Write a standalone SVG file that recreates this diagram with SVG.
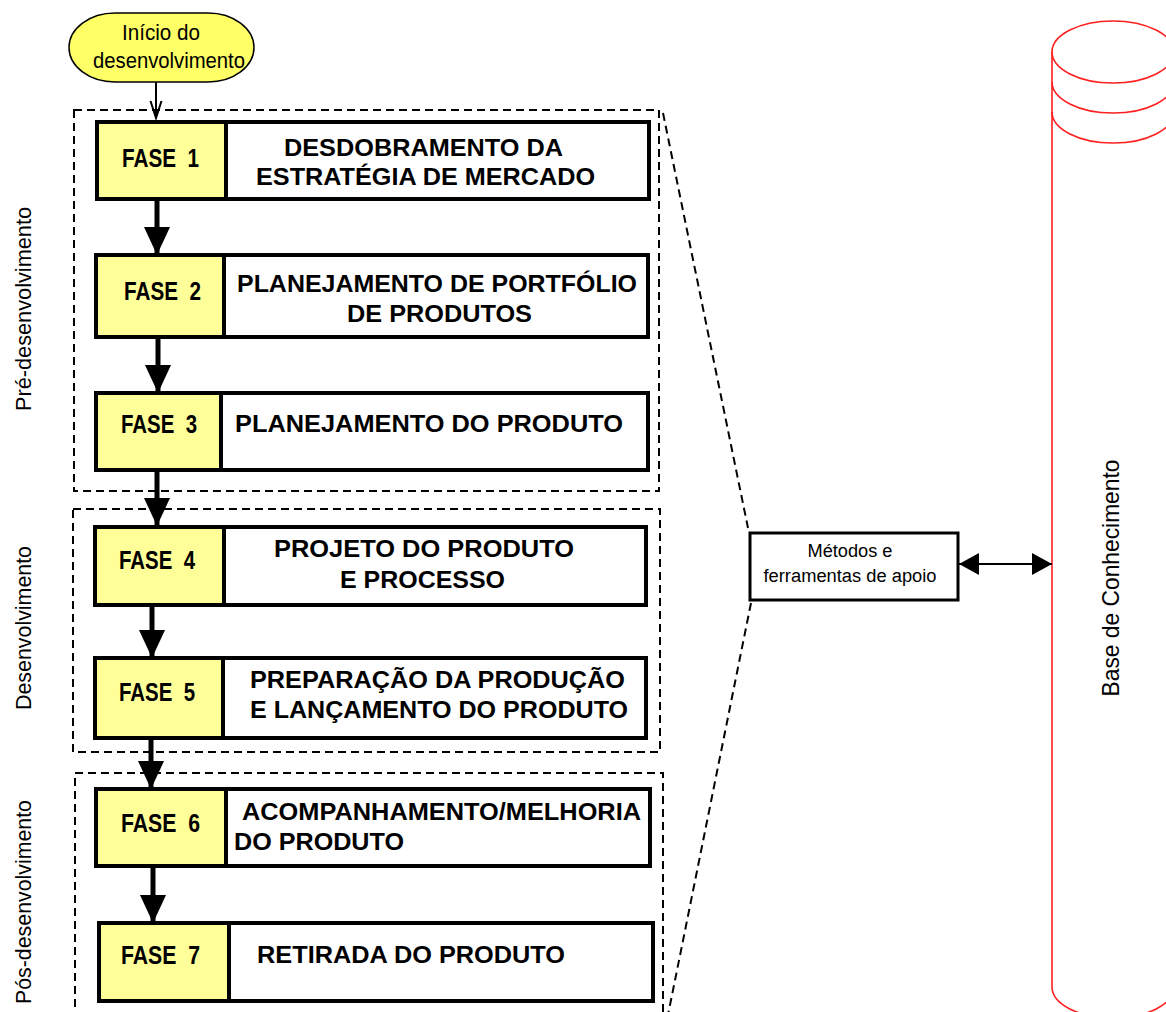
<svg xmlns="http://www.w3.org/2000/svg" width="1166" height="1012" viewBox="0 0 1166 1012">
<style>
.lab{fill:#ffff99;stroke:#000;stroke-width:4}
.desc{fill:#fff;stroke:#000;stroke-width:4}
.fase{font-family:"Liberation Sans Narrow","Liberation Sans",Arial,sans-serif;font-weight:bold;font-size:25px;fill:#000}
.txt{font-family:"Liberation Sans",Arial,sans-serif;font-weight:bold;font-size:24px;fill:#000}
.nar{font-family:"Liberation Sans Narrow","Liberation Sans",Arial,sans-serif;fill:#000}
.dash{fill:none;stroke:#000;stroke-width:2;stroke-dasharray:8,5}
.shaft{stroke:#000;stroke-width:5;fill:none}
.cyl{fill:none;stroke:#ff1f1f;stroke-width:1.6}
</style>
<defs>
<marker id="big" markerUnits="userSpaceOnUse" markerWidth="28" markerHeight="26" viewBox="0 0 28 26" refX="28" refY="13" orient="auto">
<path d="M0,0 L28,13 L0,26 z" fill="#000"/>
</marker>
<marker id="dbl" markerUnits="userSpaceOnUse" markerWidth="20" markerHeight="22" viewBox="0 0 20 22" refX="20" refY="11" orient="auto-start-reverse">
<path d="M0,0 L20,11 L0,22 z" fill="#000"/>
</marker>
</defs>

<g id="groups">
<rect class="dash" x="74" y="110" width="585" height="381"/>
<rect class="dash" x="73" y="509" width="587" height="243"/>
<path class="dash" d="M75,1020 L75,773 L663,773 L663,1020"/>
<line class="dash" x1="663" y1="113" x2="748" y2="528"/>
<line class="dash" x1="751" y1="603" x2="668" y2="1015"/>
</g>

<g id="start">
<rect x="69" y="13" width="185" height="69" rx="46" ry="34.5" fill="#ffff66" stroke="#000" stroke-width="1.5"/>
<text class="nar" x="161" y="40" font-size="22" text-anchor="middle" textLength="78" lengthAdjust="spacingAndGlyphs">Início do</text>
<text class="nar" x="169" y="68" font-size="22" text-anchor="middle" textLength="152" lengthAdjust="spacingAndGlyphs">desenvolvimento</text>
</g>

<g id="fase1">
<rect class="desc" x="226" y="122" width="423" height="77"/>
<rect class="lab" x="97" y="122" width="129" height="77"/>
<text class="fase" x="122" y="167" textLength="77" lengthAdjust="spacingAndGlyphs" xml:space="preserve">FASE  1</text>
<text class="txt" x="284" y="156" textLength="279" lengthAdjust="spacingAndGlyphs">DESDOBRAMENTO DA</text>
<text class="txt" x="256" y="185" textLength="339" lengthAdjust="spacingAndGlyphs">ESTRATÉGIA DE MERCADO</text>
</g>

<g id="fase2">
<rect class="desc" x="224" y="255" width="424" height="82"/>
<rect class="lab" x="96" y="255" width="128" height="82"/>
<text class="fase" x="124" y="300" textLength="77" lengthAdjust="spacingAndGlyphs" xml:space="preserve">FASE  2</text>
<text class="txt" x="237" y="292" textLength="400" lengthAdjust="spacingAndGlyphs">PLANEJAMENTO DE PORTFÓLIO</text>
<text class="txt" x="347" y="322" textLength="185" lengthAdjust="spacingAndGlyphs">DE PRODUTOS</text>
</g>

<g id="fase3">
<rect class="desc" x="221" y="393" width="427" height="77"/>
<rect class="lab" x="96" y="393" width="125" height="77"/>
<text class="fase" x="121" y="433" textLength="76" lengthAdjust="spacingAndGlyphs" xml:space="preserve">FASE  3</text>
<text class="txt" x="235" y="432" textLength="388" lengthAdjust="spacingAndGlyphs">PLANEJAMENTO DO PRODUTO</text>
</g>

<g id="fase4">
<rect class="desc" x="224" y="527" width="422" height="78"/>
<rect class="lab" x="95" y="527" width="129" height="78"/>
<text class="fase" x="119" y="569" textLength="76" lengthAdjust="spacingAndGlyphs" xml:space="preserve">FASE  4</text>
<text class="txt" x="274" y="557" textLength="300" lengthAdjust="spacingAndGlyphs">PROJETO DO PRODUTO</text>
<text class="txt" x="340" y="588" textLength="165" lengthAdjust="spacingAndGlyphs">E PROCESSO</text>
</g>

<g id="fase5">
<rect class="desc" x="223" y="658" width="423" height="80"/>
<rect class="lab" x="95" y="658" width="128" height="80"/>
<text class="fase" x="119" y="701" textLength="76" lengthAdjust="spacingAndGlyphs" xml:space="preserve">FASE  5</text>
<text class="txt" x="250" y="688" textLength="375" lengthAdjust="spacingAndGlyphs">PREPARAÇÃO DA PRODUÇÃO</text>
<text class="txt" x="250" y="718" textLength="378" lengthAdjust="spacingAndGlyphs">E LANÇAMENTO DO PRODUTO</text>
</g>

<g id="fase6">
<rect class="desc" x="226" y="789" width="424" height="77"/>
<rect class="lab" x="96" y="789" width="130" height="77"/>
<text class="fase" x="121" y="832" textLength="79" lengthAdjust="spacingAndGlyphs" xml:space="preserve">FASE  6</text>
<text class="txt" x="242" y="820" textLength="399" lengthAdjust="spacingAndGlyphs">ACOMPANHAMENTO/MELHORIA</text>
<text class="txt" x="234" y="850" textLength="170" lengthAdjust="spacingAndGlyphs">DO PRODUTO</text>
</g>

<g id="fase7">
<rect class="desc" x="229" y="923" width="424" height="78"/>
<rect class="lab" x="99" y="923" width="130" height="78"/>
<text class="fase" x="121" y="964" textLength="79" lengthAdjust="spacingAndGlyphs" xml:space="preserve">FASE  7</text>
<text class="txt" x="257" y="963" textLength="308" lengthAdjust="spacingAndGlyphs">RETIRADA DO PRODUTO</text>
</g>

<g id="metodos">
<rect x="750" y="533" width="208" height="67" fill="#fff" stroke="#000" stroke-width="3"/>
<text class="nar" x="850" y="557" font-size="18" text-anchor="middle" textLength="85" lengthAdjust="spacingAndGlyphs">Métodos e</text>
<text class="nar" x="850" y="582" font-size="18" text-anchor="middle" textLength="173" lengthAdjust="spacingAndGlyphs">ferramentas de apoio</text>
</g>

<g id="base">
<path class="cyl" d="M1052,52 A61,31 0 0 1 1174,52 A61,31 0 0 1 1052,52 Z"/>
<path class="cyl" d="M1052,82 A61,31 0 0 0 1174,82"/>
<path class="cyl" d="M1052,112 A61,31 0 0 0 1174,112"/>
<path class="cyl" d="M1052,52 L1052,987 A61,31 0 0 0 1174,987"/>
<text class="nar" transform="translate(1119,578) rotate(-90)" font-size="24" text-anchor="middle" textLength="237" lengthAdjust="spacingAndGlyphs">Base de Conhecimento</text>
</g>

<g id="stage-labels">
<text class="nar" transform="translate(31,309) rotate(-90)" font-size="22" text-anchor="middle" textLength="204" lengthAdjust="spacingAndGlyphs">Pré-desenvolvimento</text>
<text class="nar" transform="translate(31,628) rotate(-90)" font-size="22" text-anchor="middle" textLength="164" lengthAdjust="spacingAndGlyphs">Desenvolvimento</text>
<text class="nar" transform="translate(31,902) rotate(-90)" font-size="22" text-anchor="middle" textLength="204" lengthAdjust="spacingAndGlyphs">Pós-desenvolvimento</text>
</g>

<g id="connectors">
<line x1="156" y1="82" x2="156" y2="117" stroke="#000" stroke-width="2"/>
<polyline points="150.5,101 156,118 161.5,101" fill="none" stroke="#000" stroke-width="2"/>
<line class="shaft" x1="157" y1="199" x2="157" y2="255" marker-end="url(#big)"/>
<line class="shaft" x1="158" y1="337" x2="158" y2="393" marker-end="url(#big)"/>
<line class="shaft" x1="157" y1="470" x2="157" y2="526" marker-end="url(#big)"/>
<line class="shaft" x1="152" y1="605" x2="152" y2="658" marker-end="url(#big)"/>
<line class="shaft" x1="151" y1="738" x2="151" y2="789" marker-end="url(#big)"/>
<line class="shaft" x1="153" y1="866" x2="153" y2="923" marker-end="url(#big)"/>
<line x1="959" y1="564" x2="1052" y2="564" stroke="#000" stroke-width="2" marker-start="url(#dbl)" marker-end="url(#dbl)"/>
</g>
</svg>
